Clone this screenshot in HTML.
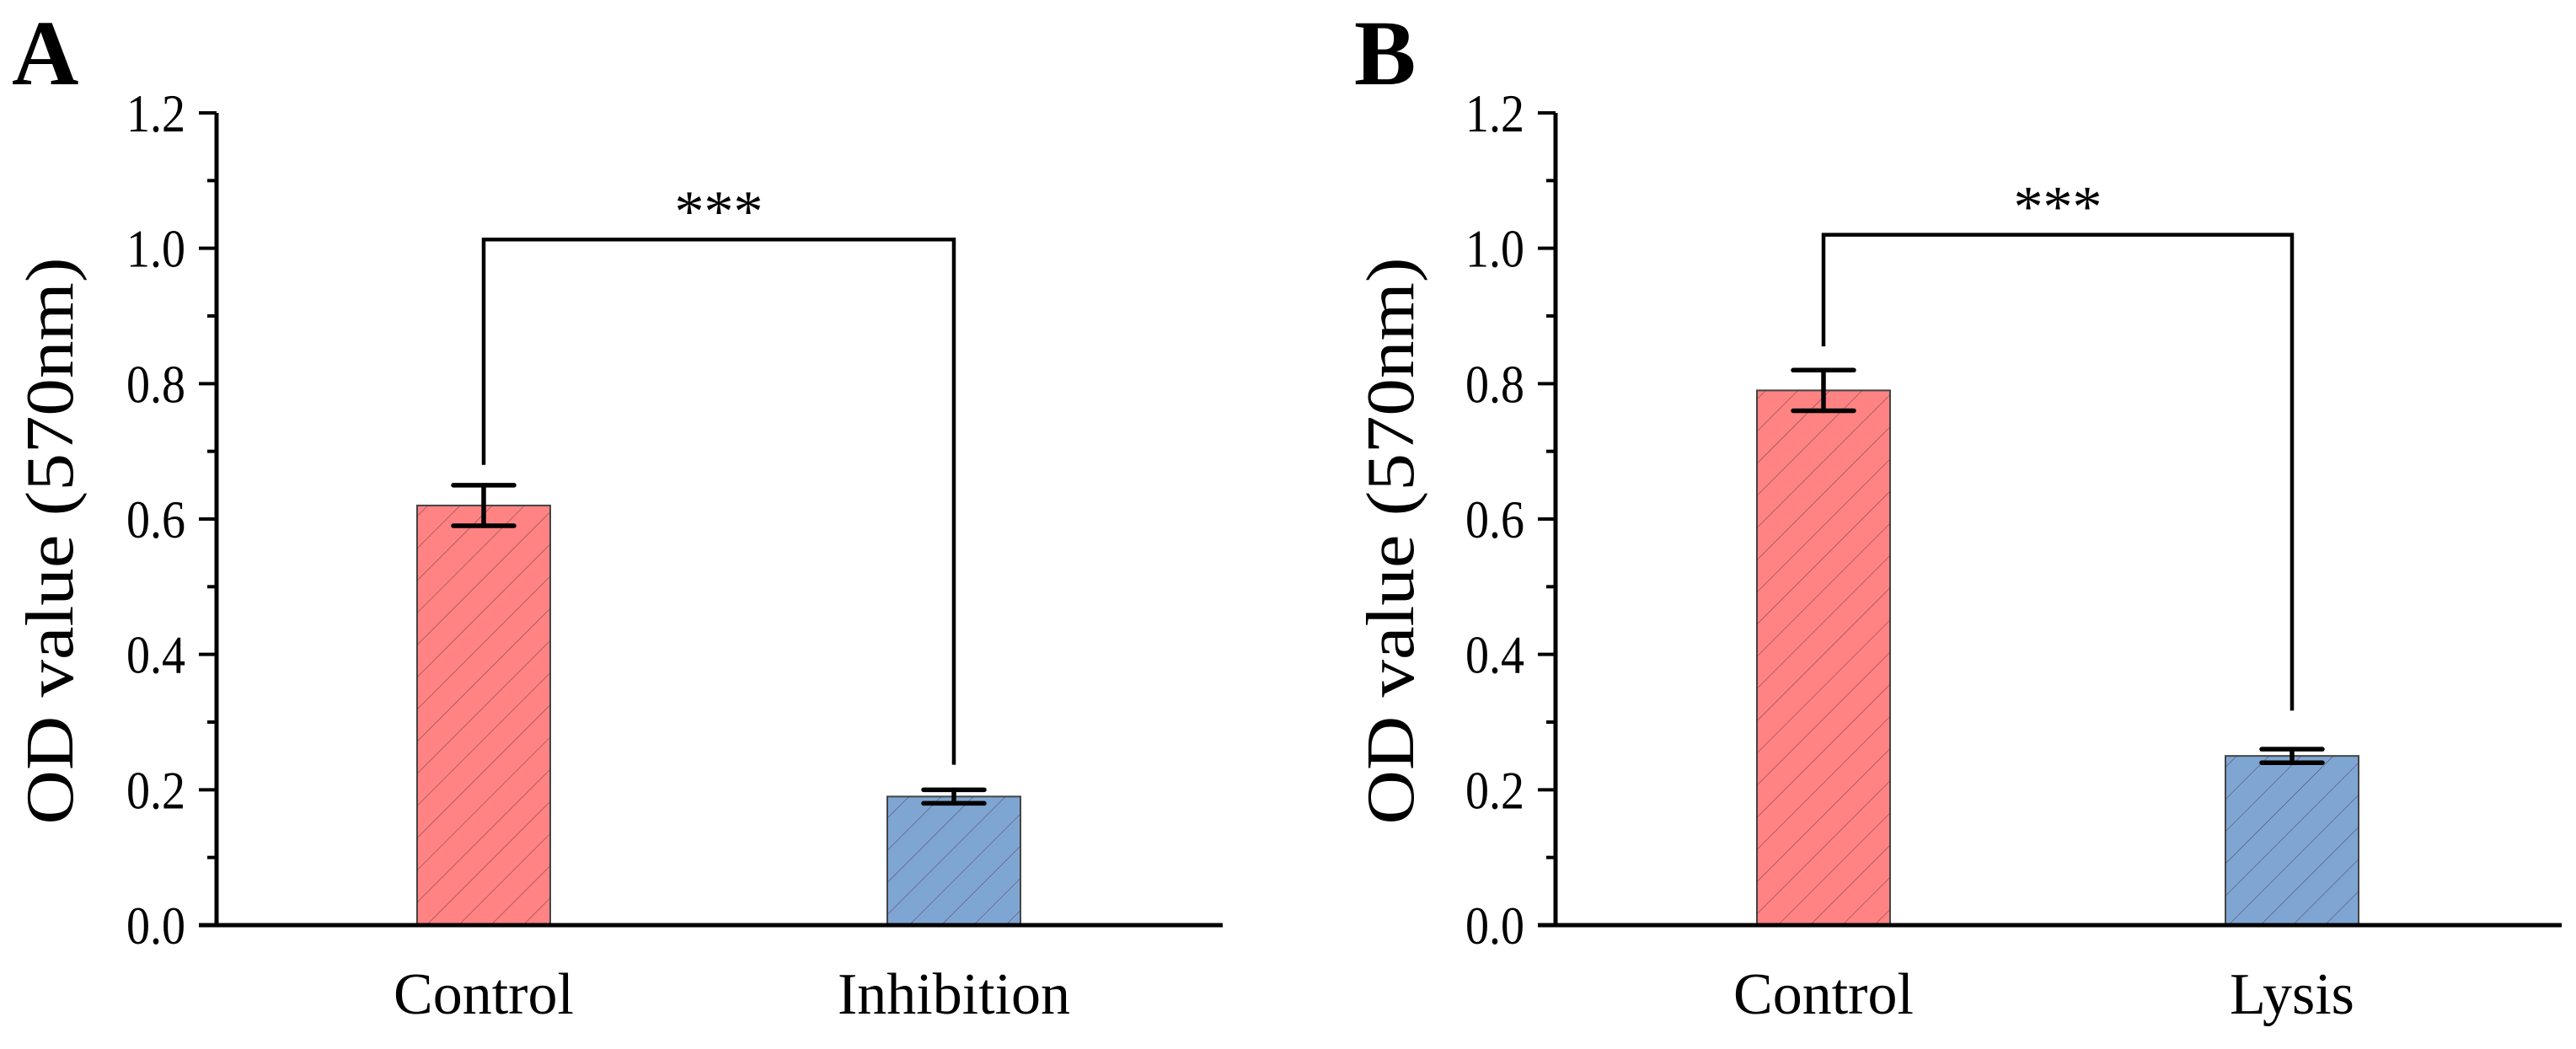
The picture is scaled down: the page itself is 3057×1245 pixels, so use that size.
<!DOCTYPE html>
<html><head><meta charset="utf-8"><style>
html,body{margin:0;padding:0;background:#fff;}
svg{display:block;}
svg text{font-family:"Liberation Serif","Times New Roman",Times,serif;fill:#000;}
</style></head><body>
<svg id="chart" width="3057" height="1245" viewBox="0 0 3057 1245" xmlns="http://www.w3.org/2000/svg" font-family="Liberation Serif, Times New Roman, serif">
<defs>
<pattern id="hatch" patternUnits="userSpaceOnUse" width="27" height="27" patternTransform="rotate(45)">
<line x1="0" y1="0" x2="0" y2="27" stroke="#4a2a3a" stroke-width="1.2" stroke-opacity="0.7"/>
</pattern>
</defs>
</svg>
<script>
// Panel A data
const catsA = ["Control", "Inhibition"];
const valsA = [0.62, 0.19];
const errsA = [0.03, 0.01];
const bracketA = [1.013, 0.68, 0.237]; // top, left-leg end, right-leg end
// Panel B data
const catsB = ["Control", "Lysis"];
const valsB = [0.79, 0.25];
const errsB = [0.03, 0.01];
const bracketB = [1.02, 0.855, 0.317];
const yTicks = [0.0, 0.2, 0.4, 0.6, 0.8, 1.0, 1.2];
const yTickLabels = ["0.0", "0.2", "0.4", "0.6", "0.8", "1.0", "1.2"];
const colors = ["#FF8383", "#7FA6D3"];

const svg = document.getElementById('chart');
const NS = "http://www.w3.org/2000/svg";
const FF = '"Liberation Serif", "Times New Roman", serif';
function mk(tag, attrs, parent) {
  const e = document.createElementNS(NS, tag);
  for (const k in attrs) e.setAttribute(k, attrs[k]);
  if (tag === 'text') e.style.fontFamily = FF;
  (parent || svg).appendChild(e);
  return e;
}
const Y0 = 1098, YTOP = 134, YMAX = 1.2;
function yScale(v) { return Y0 - (v / YMAX) * (Y0 - YTOP); }

function panel(opts) {
  const g = mk('g', {});
  
  
  const ax = opts.axisX;
  const xPos = (i) => opts.firstX + i * opts.step;

  const L = mk('text', {x: opts.letterX, y: 100, 'font-size': 110, 'font-weight': 'bold'}, g);
  L.textContent = opts.letter;
  
  

  const t = mk('text', {x: 0, y: 0, 'font-size': 80, 'text-anchor': 'middle', textLength: 673, lengthAdjust: 'spacingAndGlyphs',
    transform: `translate(${opts.titleX},${(YTOP + Y0) / 2 + 26}) rotate(-90)`}, g);
  t.textContent = "OD value (570nm)";
  
  

  opts.vals.forEach((v, i) => {
    const cx = xPos(i), w = 158;
    const r = mk('rect', {x: cx - w / 2, y: yScale(v), width: w, height: Y0 - yScale(v), fill: colors[i], stroke: '#444', 'stroke-width': 2}, g);
    
    
    const h = mk('rect', {x: cx - w / 2, y: yScale(v), width: w, height: Y0 - yScale(v), fill: 'url(#hatch)'}, g);
    
    
    const e = opts.errs[i];
    const eg = mk('g', {stroke: '#000', 'stroke-width': 5.5, 'stroke-linecap': 'round'}, g);
    
    
    mk('line', {x1: cx, x2: cx, y1: yScale(v + e), y2: yScale(v - e)}, eg);
    mk('line', {x1: cx - 36, x2: cx + 36, y1: yScale(v + e), y2: yScale(v + e)}, eg);
    mk('line', {x1: cx - 36, x2: cx + 36, y1: yScale(v - e), y2: yScale(v - e)}, eg);
    const c = mk('text', {x: cx, y: 1203, 'font-size': 70, 'text-anchor': 'middle'}, g);
    c.textContent = opts.cats[i];
    
    
  });

  const b = opts.bracket;
  const br = mk('polyline', {points: `${xPos(0)},${yScale(b[1])} ${xPos(0)},${yScale(b[0])} ${xPos(1)},${yScale(b[0])} ${xPos(1)},${yScale(b[2])}`,
    fill: 'none', stroke: '#000', 'stroke-width': 4.5}, g);
  
  
  const st = mk('text', {x: (xPos(0) + xPos(1)) / 2, y: yScale(b[0]) - 10, 'font-size': 70, 'text-anchor': 'middle'}, g);
  st.textContent = "***";
  
  

  const ya = mk('line', {x1: ax, x2: ax, y1: YTOP, y2: Y0 + 2.5, stroke: '#000', 'stroke-width': 5}, g);
  
  
  const xa = mk('line', {x1: ax - 21, x2: opts.xEnd, y1: Y0, y2: Y0, stroke: '#000', 'stroke-width': 5}, g);
  
  
  yTicks.forEach((v, i) => {
    const y = yScale(v);
    const tk = mk('line', {x1: ax - 21, x2: ax, y1: y, y2: y, stroke: '#000', 'stroke-width': 4}, g);
    
    
    const lb = mk('text', {x: ax - 37, y: y + 22, 'font-size': 64, 'text-anchor': 'end', textLength: 70, lengthAdjust: 'spacingAndGlyphs'}, g);
    lb.textContent = yTickLabels[i];
    
    
    if (i < yTicks.length - 1) {
      const my = yScale(v + 0.1);
      const mt = mk('line', {x1: ax - 11, x2: ax, y1: my, y2: my, stroke: '#000', 'stroke-width': 4}, g);
      
      
    }
  });
}

panel({name: 'panel-a', letter: 'A', letterX: 14, titleX: 86, axisX: 257, firstX: 574, step: 558, xEnd: 1451,
  cats: catsA, vals: valsA, errs: errsA, bracket: bracketA});
panel({name: 'panel-b', letter: 'B', letterX: 1607, titleX: 1677, axisX: 1846, firstX: 2164, step: 556, xEnd: 3040,
  cats: catsB, vals: valsB, errs: errsB, bracket: bracketB});
</script>
</body></html>
